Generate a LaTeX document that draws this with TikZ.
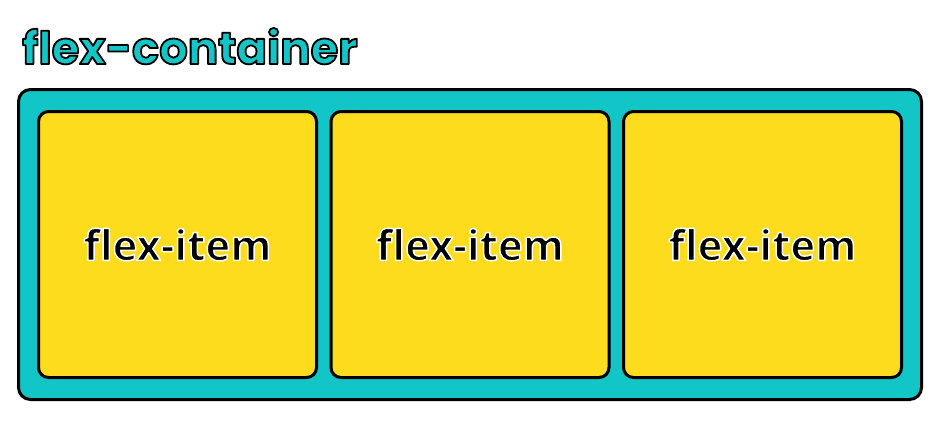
\documentclass[tikz,border=0pt]{standalone}
\usepackage{fontspec}
\newfontfamily\titlefont{Poppins}
\newfontfamily\itemfont{Open Sans}
\usepackage{xcolor}
\definecolor{flexteal}{HTML}{12C5C7}
\definecolor{flexyellow}{HTML}{FCDC1C}
% stroked text: #1 = stroke colour (r g b), #2 = stroke width
\newcommand\strokedtext[3]{\special{pdf:literal direct #1 RG #2 w 1 j 2 Tr}#3\special{pdf:literal direct 0 Tr}}
\tikzset{
	container/.style={draw=black, line width=3pt, fill=flexteal, rounded corners=12pt,
		minimum width=903pt, minimum height=310pt, inner sep=0pt},
	flexitem/.style={draw=black, line width=3pt, fill=flexyellow, rounded corners=10pt,
		minimum width=278pt, minimum height=266pt, inner sep=0pt,
		font=\itemfont\bfseries\fontsize{42}{48}\selectfont},
	heading/.style={anchor=base west, inner sep=0pt, text=flexteal,
		font=\titlefont\bfseries\fontsize{45}{50}\selectfont}
}

\begin{document}
\begin{tikzpicture}[x=1pt,y=-1pt]
		\useasboundingbox (0,0) rectangle (936,426);
		\node[heading] (title) at (22,64) {\strokedtext{0 0 0}{1.8}{flex-container}};
		\node[container] (box) at (470,244.5) {};
		\foreach \i/\x in {1/177.5,2/470,3/762.5}
		\node[flexitem] (item\i) at (\x,244.5) {\strokedtext{1 1 1}{1.5}{flex-item}};
	\end{tikzpicture}
\end{document}
